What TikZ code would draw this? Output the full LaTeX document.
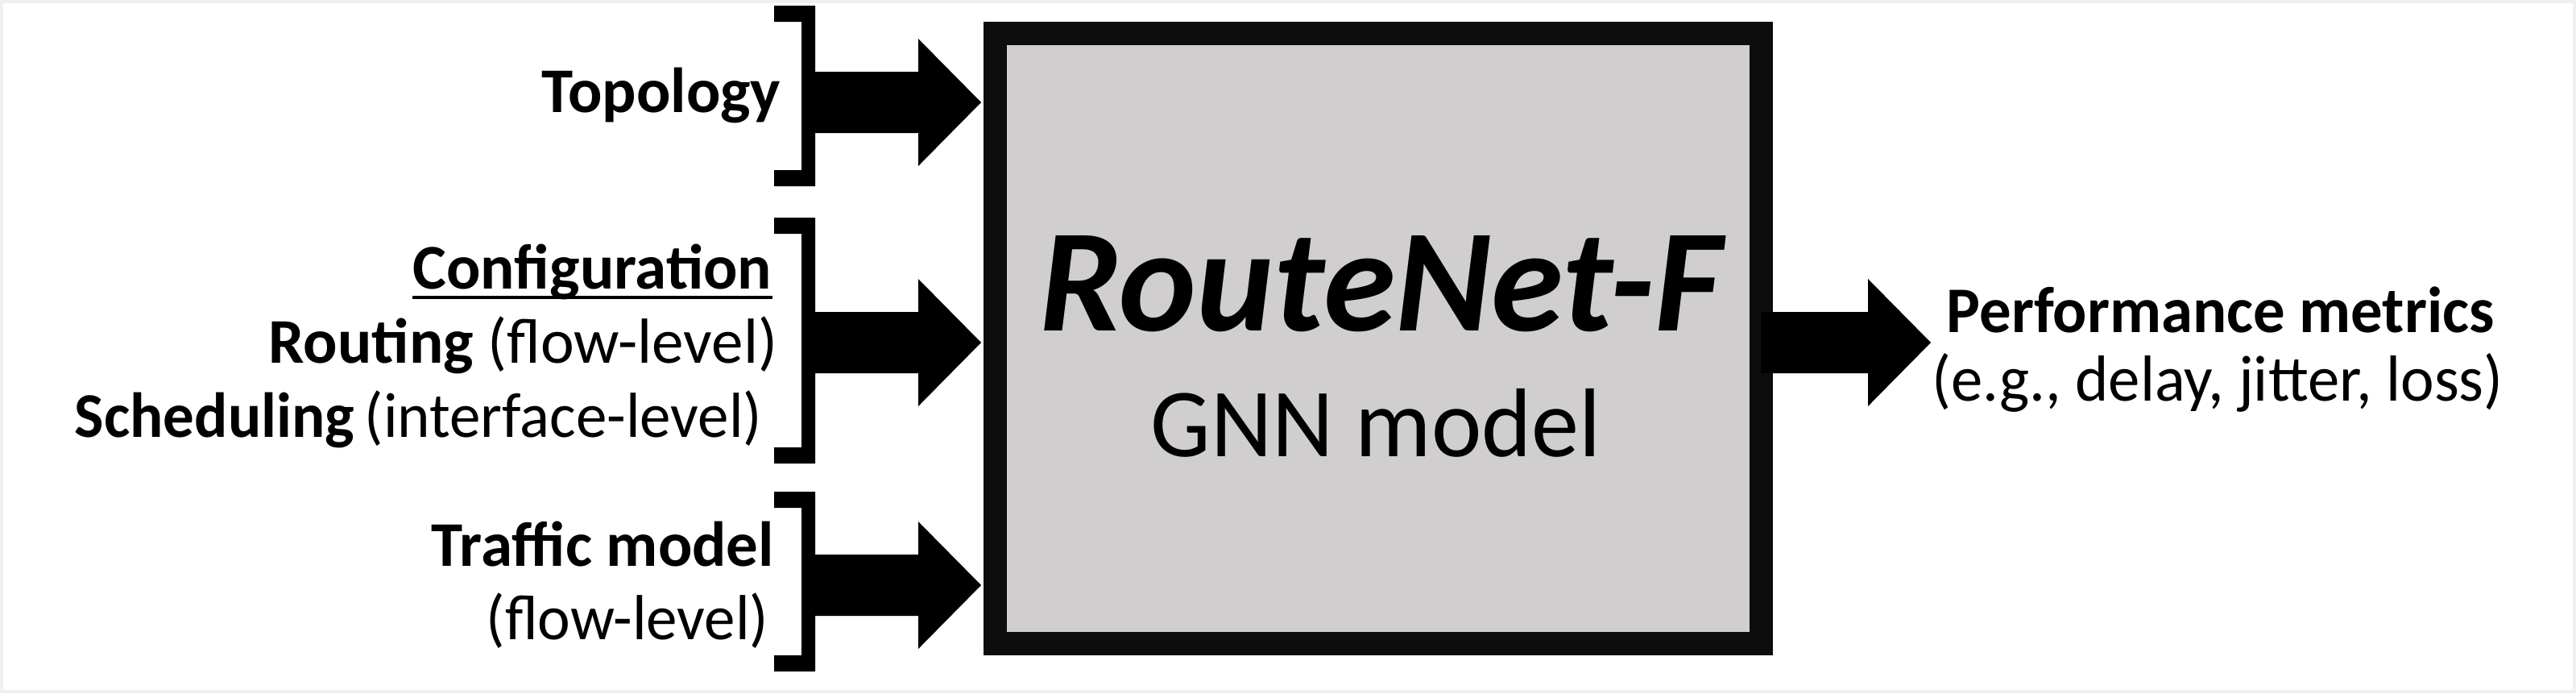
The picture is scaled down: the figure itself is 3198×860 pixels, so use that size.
\documentclass[tikz,border=0pt]{standalone}
\usepackage{fontspec}
\setmainfont{Carlito}
\usetikzlibrary{calc}
\definecolor{boxfill}{HTML}{D0CECF}
\definecolor{boxline}{HTML}{0D0D0D}
\definecolor{framegray}{HTML}{F0F0F0}
\newcommand{\blkarrow}[3]{\fill[black] (#1,{#3-38}) -- ({#2-78},{#3-38}) -- ({#2-78},{#3-79}) -- (#2,#3) -- ({#2-78},{#3+79}) -- ({#2-78},{#3+38}) -- (#1,{#3+38}) -- cycle;}
\newcommand{\inbracket}[2]{\fill[black] (961,#1) -- (1012,#1) -- (1012,#2) -- (961,#2) -- (961,{#2-20}) -- (995,{#2-20}) -- (995,{#1+20}) -- (961,{#1+20}) -- cycle;}
\newcommand{\nrw}[1]{\scalebox{0.975}[1]{#1}}
\begin{document}
\begin{tikzpicture}[x=0.25pt,y=-0.25pt,
  lbl/.style={inner sep=0pt, anchor=base east, font=\fontsize{19.75}{23}\selectfont},
  rlbl/.style={inner sep=0pt, anchor=base, font=\fontsize{20.2}{24}\selectfont}]
\fill[framegray] (0,0) rectangle (3198,860);
\fill[white] (4,4) rectangle (3194,856);
\useasboundingbox (0,0) rectangle (3198,860);

% main box
\node (box) [draw=boxline, fill=boxfill, line width=7.25pt, inner sep=0pt,
  minimum width=237.75pt, minimum height=189.25pt] at (1711,419.5) {};
\node (title) [inner sep=0pt, anchor=base, font=\fontsize{45.5}{50}\selectfont\bfseries\itshape] at (1714,410) {RouteNet-F};
\node (sub) [inner sep=0pt, anchor=base, font=\fontsize{30.3}{34}\selectfont] at (1708,566) {\nrw{GNN model}};

% brackets
\inbracket{7}{231}
\inbracket{270}{575}
\inbracket{610}{833}

% input arrows
\blkarrow{1012}{1218}{127}
\blkarrow{1012}{1218}{425}
\blkarrow{1012}{1218}{726}
% output arrow
\blkarrow{2186}{2397}{425}

% left labels
\node (topo) [lbl] at (970,139) {\bfseries Topology};
\node (cfg) [lbl] at (959,358) {\bfseries Configuration};
\draw[line width=1pt] ($(cfg.base west)+(0,11)$) -- ($(cfg.base east)+(0,11)$);
\node (rout) [lbl] at (966,450) {\textbf{Routing} (flow-level)};
\node (sched) [lbl] at (947,542) {\nrw{\textbf{Scheduling}\,(interface-level)}};
\node (traf) [lbl] at (962,702) {\bfseries Traffic model};
\node (trafsub) [lbl] at (955,793) {\nrw{(flow-level)}};

% right labels
\node (perf) [rlbl] at (2757,412) {\nrw{\bfseries Performance metrics}};
\node (perfsub) [rlbl] at (2753,497) {\nrw{(e.g., delay, jitter, loss)}};
\end{tikzpicture}
\end{document}
